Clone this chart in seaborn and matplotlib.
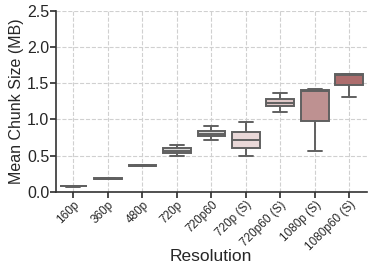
import matplotlib
matplotlib.use("Agg")
import matplotlib.pyplot as plt
import pandas as pd
import seaborn as sns

# Resolutions (x categories)
resolutions = ["160p", "360p", "480p", "720p", "720p60",
               "720p (S)", "720p60 (S)", "1080p (S)", "1080p60 (S)"]

# per-resolution samples: [min, q1, median, q3, max]
v_160p = [0.07, 0.075, 0.077, 0.08, 0.082]
v_360p = [0.175, 0.18, 0.183, 0.186, 0.19]
v_480p = [0.35, 0.355, 0.36, 0.37, 0.375]
v_720p = [0.50, 0.53, 0.57, 0.60, 0.65]
v_720p60 = [0.72, 0.77, 0.80, 0.84, 0.91]
v_720p_s = [0.50, 0.60, 0.71, 0.83, 0.96]
v_720p60_s = [1.10, 1.18, 1.23, 1.28, 1.36]
v_1080p_s = [0.57, 0.98, 1.40, 1.41, 1.42]
v_1080p60_s = [1.31, 1.48, 1.62, 1.63, 1.63]

samples = [v_160p, v_360p, v_480p, v_720p, v_720p60,
           v_720p_s, v_720p60_s, v_1080p_s, v_1080p60_s]

box_colors = ["#d9d9d9", "#d9d9d9", "#d9d9d9", "#d9d9d9", "#d9d9d9",
              "#ecd5d5", "#e2c2c2", "#c58a8a", "#b86262"]

df = pd.DataFrame(
    [(r, v) for r, vals in zip(resolutions, samples) for v in vals],
    columns=["Resolution", "size"],
)

sns.set_theme(style="ticks")
plt.rcParams["font.family"] = ["Liberation Sans", "DejaVu Sans"]

fig = plt.figure(figsize=(3.74, 2.74), dpi=100)
ax = fig.add_axes([0.15, 0.30, 0.83, 0.66])

sns.boxplot(data=df, x="Resolution", y="size", hue="Resolution",
            order=resolutions, hue_order=resolutions,
            palette=box_colors, legend=False, width=0.8,
            linewidth=1.4, linecolor="#606060", fliersize=0,
            whis=1.5, ax=ax)

ax.set_ylim(0, 2.5)
ax.set_yticks([0, 0.5, 1.0, 1.5, 2.0, 2.5])
ax.set_xlim(-0.5, len(resolutions) - 0.5)
ax.grid(True, linestyle="--", color="#d0d0d0", linewidth=0.8)
ax.set_axisbelow(True)
sns.despine(ax=ax)
for sp in ["left", "bottom"]:
    ax.spines[sp].set_color("#333333")
    ax.spines[sp].set_linewidth(1.2)

ax.tick_params(axis="y", labelsize=11.5, length=4, color="#333333", pad=1)
ax.tick_params(axis="x", labelsize=8.5, length=4, color="#333333", pad=1)
plt.setp(ax.get_xticklabels(), rotation=45, ha="right", rotation_mode="anchor")

ax.set_ylabel("Mean Chunk Size (MB)", fontsize=11.5, labelpad=2)
ax.set_xlabel("Resolution", fontsize=12.5, labelpad=-3)

fig.savefig("out.png", dpi=100)
